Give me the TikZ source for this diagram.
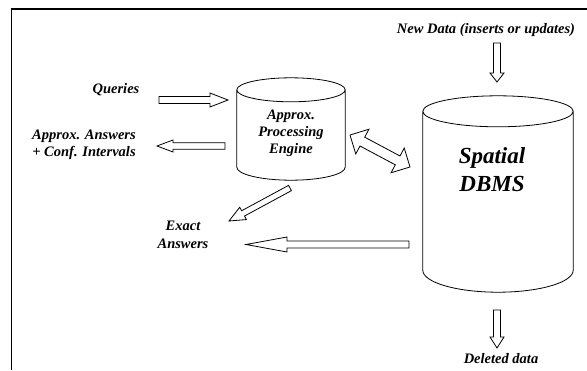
\documentclass[tikz,border=0pt]{standalone}
\usepackage{fontspec}
\setmainfont{Liberation Serif}
\usetikzlibrary{calc}

\tikzset{
  lbl/.style={font=\bfseries\itshape\fontsize{14.5}{17}\selectfont, align=center, inner sep=0pt},
  dbbox/.style={inner sep=0pt},
  fat/.style={draw, fill=white, line join=miter, line width=0.8pt}
}

\newcommand{\fatarrow}[5]{%
  \coordinate (fa) at ($(#2)!#5!(#1)$);
  \draw[fat] ($(#1)!#3!90:(#2)$) -- ($(fa)!#3!90:(#2)$) -- ($(fa)!#4!90:(#2)$) -- (#2)
    -- ($(fa)!#4!-90:(#2)$) -- ($(fa)!#3!-90:(#2)$) -- ($(#1)!#3!-90:(#2)$) -- cycle;
}
\newcommand{\fatdarrow}[5]{%
  \coordinate (fa) at ($(#1)!#5!(#2)$);
  \coordinate (fb) at ($(#2)!#5!(#1)$);
  \draw[fat] (#1) -- ($(fa)!#4!90:(#2)$) -- ($(fa)!#3!90:(#2)$) -- ($(fb)!#3!90:(#2)$)
    -- ($(fb)!#4!90:(#2)$) -- (#2) -- ($(fb)!#4!-90:(#2)$) -- ($(fb)!#3!-90:(#2)$)
    -- ($(fa)!#3!-90:(#2)$) -- ($(fa)!#4!-90:(#2)$) -- cycle;
}
% cylinder round a node: node, top radius, bottom radius
\newcommand{\dbdraw}[3]{%
  \draw[line width=0.8pt] let \p1=($(#1.east)-(#1.west)$) in
    ([yshift=-#2]#1.north west) -- ([yshift=#3]#1.south west)
    arc[start angle=180, end angle=360, x radius=0.5*\x1, y radius=#3]
    -- ([yshift=-#2]#1.north east)
    ([yshift=-#2]#1.north) ellipse[x radius=0.5*\x1, y radius=#2];
}

\begin{document}
\begin{tikzpicture}[x=1pt, y=-1pt]
	\useasboundingbox (0,0) rectangle (587,370);
	\draw[line width=2pt] (10.5,8.5) -- (587,8.5);
	\draw[line width=1pt] (11,8) -- (11,370);

	\draw
	node[dbbox, minimum width=108pt, minimum height=102pt] at (291,129) (ape) {}
	node[dbbox, minimum width=150pt, minimum height=196pt] at (498,194) (dbms) {}
	node[lbl] at (291,133) (apetxt) {Approx.\\Processing\\Engine}
	node[lbl, font=\bfseries\itshape\fontsize{23}{28}\selectfont] at (492,170) (dbmstxt) {Spatial\\DBMS}
	node[lbl] at (116,90) (qry) {Queries}
	node[lbl] at (84,145) (aans) {Approx. Answers\\+ Conf. Intervals}
	node[lbl, font=\bfseries\itshape\fontsize{14.5}{18}\selectfont] at (183,235) (exact) {Exact\\Answers}
	node[lbl] at (486,30) (new) {New Data (inserts or updates)}
	node[lbl] at (501,359) (del) {Deleted data};

	\dbdraw{ape}{12pt}{13pt}
	\dbdraw{dbms}{15.5pt}{22pt}

	\coordinate (q1) at (159,100);
	\coordinate (q2) at (228,100);
	\coordinate (a1) at (225,146);
	\coordinate (a2) at (157,146);
	\coordinate (n1) at (497,43);
	\coordinate (n2) at (497,82);
	\coordinate (d1) at (497,310);
	\coordinate (d2) at (497,348);
	\coordinate (e1) at (290,188);
	\coordinate (e2) at (229,221);
	\coordinate (x1) at (409,244.5);
	\coordinate (x2) at (246,244.5);
	\coordinate (b1) at (350,135);
	\coordinate (b2) at (410,167);

	\fatarrow{q1}{q2}{3.5pt}{7pt}{18pt}
	\fatarrow{a1}{a2}{3.3pt}{6pt}{16pt}
	\fatarrow{n1}{n2}{3.5pt}{7pt}{9pt}
	\fatarrow{d1}{d2}{3.5pt}{7pt}{11pt}
	\fatarrow{e1}{e2}{3pt}{7pt}{16pt}
	\fatarrow{x1}{x2}{3.5pt}{7.5pt}{41pt}
	\fatdarrow{b1}{b2}{5pt}{14pt}{14pt}
\end{tikzpicture}
\end{document}
